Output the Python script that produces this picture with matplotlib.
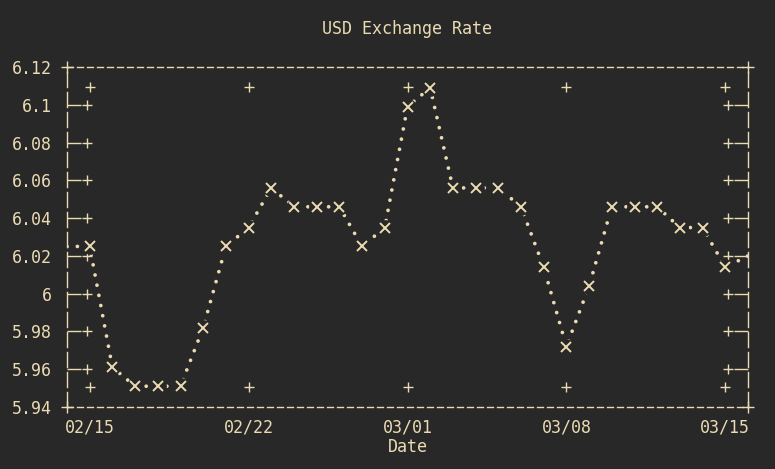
import matplotlib
matplotlib.use('Agg')
import matplotlib.pyplot as plt
import matplotlib.transforms as mtransforms
import numpy as np
import datetime as dt

# ---- data ----
dates_str = ['02/14', '02/15', '02/16', '02/17', '02/18', '02/19', '02/20', '02/21',
             '02/22', '02/23', '02/24', '02/25', '02/26', '02/27', '02/28', '03/01',
             '03/02', '03/03', '03/04', '03/05', '03/06', '03/07', '03/08', '03/09',
             '03/10', '03/11', '03/12', '03/13', '03/14', '03/15', '03/16']
rates = [6.025, 6.025, 5.961, 5.951, 5.951, 5.951, 5.982, 6.025,
         6.035, 6.056, 6.046, 6.046, 6.046, 6.025, 6.035, 6.099,
         6.109, 6.056, 6.056, 6.056, 6.046, 6.014, 5.972, 6.004,
         6.046, 6.046, 6.046, 6.035, 6.035, 6.014, 6.020]
x_tick_labels = ['02/15', '02/22', '03/01', '03/08', '03/15']
y_ticks = [6.12, 6.1, 6.08, 6.06, 6.04, 6.02, 6.0, 5.98, 5.96, 5.94]
y_tick_labels = ['6.12', '6.1', '6.08', '6.06', '6.04', '6.02', '6', '5.98', '5.96', '5.94']
title = 'USD Exchange Rate'
xlabel = 'Date'
year = 2014

BG = '#282828'
FG = '#ebdbb2'

plt.rcParams['font.family'] = ['DejaVu Sans Mono', 'DejaVu Sans']
plt.rcParams['font.size'] = 12

dates = [dt.datetime.strptime(f'{year}/{s}', '%Y/%m/%d') for s in dates_str]
tick_dates = [dt.datetime.strptime(f'{year}/{s}', '%Y/%m/%d') for s in x_tick_labels]

fig = plt.figure(figsize=(7.75, 4.69), dpi=100, facecolor=BG)
ax = fig.add_axes([67 / 775, 1 - 407 / 469, 681 / 775, 340 / 469])
ax.set_facecolor(BG)
ax.set_xlim(dates[0], dates[-1])
ax.set_ylim(5.94, 6.12)
y_lo, y_hi = ax.get_ylim()

# connecting line drawn as dotted "ascii" trail
ax.plot(dates, rates, color=FG, linewidth=2.7, linestyle=(0, (0.01, 2.75)),
        dash_capstyle='round', zorder=2)

# data point markers (only those inside the frame are visible)
xnum = np.array([matplotlib.dates.date2num(d) for d in dates])
lo, hi = ax.get_xlim()
inside = (xnum > lo) & (xnum < hi)
px = [d for d, m in zip(dates, inside) if m]
py = [r for r, m in zip(rates, inside) if m]
ax.plot(px, py, linestyle='none', marker='o', markersize=11,
        markerfacecolor=BG, markeredgecolor=BG, zorder=3)
ax.plot(px, py, linestyle='none', marker='x', markersize=6.5,
        markeredgewidth=1.4, color=FG, zorder=4)

# ticks
ax.set_xticks(tick_dates)
ax.set_xticklabels(x_tick_labels)
ax.set_yticks(y_ticks)
ax.set_yticklabels(y_tick_labels)
ax.tick_params(axis='x', length=0, pad=8, colors=FG)
ax.tick_params(axis='y', direction='in', length=10, width=1, left=True, right=True,
               pad=11, colors=FG)
inner_y = [v for v in y_ticks if y_lo < v < y_hi]
for t in ax.yaxis.get_major_ticks():
    if not (y_lo < t.get_loc() < y_hi):
        t.tick1line.set_visible(False)
        t.tick2line.set_visible(False)

# ascii-like "+" tick heads
tr_y = mtransforms.blended_transform_factory(ax.transAxes, ax.transData)
tr_x = mtransforms.blended_transform_factory(ax.transData, ax.transAxes)
for xx in (20 / 681, 1 - 20 / 681):
    ax.plot([xx] * len(inner_y), inner_y, transform=tr_y, linestyle='none',
            marker='+', markersize=7, markeredgewidth=1, color=FG, clip_on=False, zorder=1)
for yy in (20 / 340, 1 - 20 / 340):
    ax.plot(tick_dates, [yy] * len(tick_dates), transform=tr_x, linestyle='none',
            marker='+', markersize=7, markeredgewidth=1, color=FG, clip_on=False, zorder=1)

# frame
for side in ('top', 'bottom'):
    ax.spines[side].set_color(FG)
    ax.spines[side].set_linewidth(1)
    ax.spines[side].set_linestyle((0, (4.3, 2.9)))
for side in ('left', 'right'):
    ax.spines[side].set_color(FG)
    ax.spines[side].set_linewidth(1)
    ax.spines[side].set_linestyle((0, (10.8, 3.6)))
ax.plot([0, 0, 1, 1], [0, 1, 0, 1], transform=ax.transAxes, linestyle='none',
        marker='+', markersize=8, markeredgewidth=1, color=FG, clip_on=False, zorder=5)

ax.set_title(title, color=FG, fontsize=12, pad=24)
ax.set_xlabel(xlabel, color=FG, fontsize=12, labelpad=1)

fig.savefig('out.png', dpi=100, facecolor=BG)
